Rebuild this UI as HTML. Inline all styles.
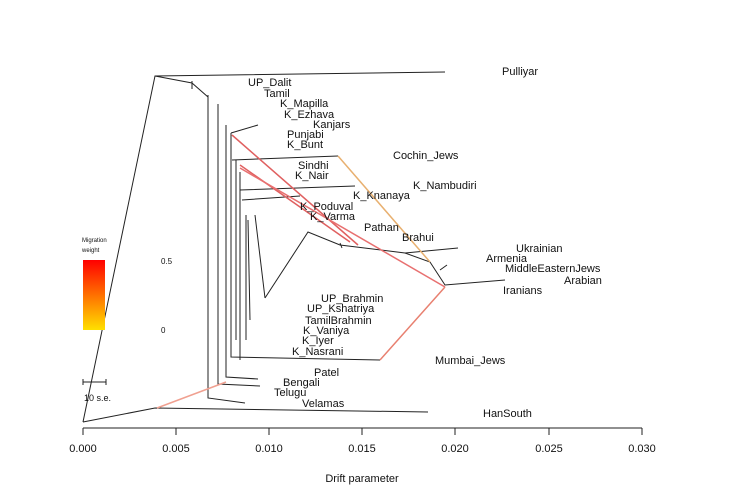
<!DOCTYPE html>
<html><head><style>
body{margin:0;background:#fff}
svg{display:block}
text{font-family:"Liberation Sans",sans-serif;font-size:11px;fill:#111}
</style></head><body>
<svg width="750" height="500" viewBox="0 0 750 500">
<defs><linearGradient id="g" x1="0" y1="0" x2="0" y2="1"><stop offset="0" stop-color="#f00"/><stop offset="1" stop-color="#ffe000"/></linearGradient></defs>
<g stroke="#222" stroke-width="1" fill="none">
<path d="M83,422 L155,76 L445,72"/>
<path d="M83,422 L155,408 L428,412"/>
<path d="M155,76 L192,83 L208,97"/>
<path d="M192,81 V89 M208,95 V104"/>
<path d="M208,97 V398 L245,403"/>
<path d="M218,104 V384 L260,386"/>
<path d="M226,125 V377 L258,379"/>
<path d="M231,133 V357 L380,360"/>
<path d="M231,133 L258,125"/>
<path d="M232,160 L338,156"/>
<path d="M236,160 V340 M240,172 V360"/>
<path d="M240,190 L355,186 M242,200 L300,196"/>
<path d="M246,215 V340 M248,220 L250,320 M255,215 L265,298"/>
<path d="M265,298 L308,232 L340,245 L405,253 L430,262 L445,285 L505,280"/>
<path d="M405,253 L458,248 M440,270 L447,265 M340,243 L342,248"/>
</g>
<g fill="none" stroke-width="1.5">
<path d="M338,156 L430,262" stroke="#e8b070"/>
<path d="M232,135 L358,245" stroke="#e06060"/>
<path d="M240,165 L350,242" stroke="#e06060"/>
<path d="M240,168 L445,287" stroke="#e87070"/>
<path d="M445,287 L380,360" stroke="#e88070"/>
<path d="M157,408 L226,382" stroke="#f0a090"/>
</g>
<text x="502" y="75">Pulliyar</text>
<text x="248" y="86">UP_Dalit</text>
<text x="264" y="97">Tamil</text>
<text x="280" y="107">K_Mapilla</text>
<text x="284" y="118">K_Ezhava</text>
<text x="313" y="128">Kanjars</text>
<text x="287" y="138">Punjabi</text>
<text x="287" y="148">K_Bunt</text>
<text x="393" y="159">Cochin_Jews</text>
<text x="298" y="169">Sindhi</text>
<text x="295" y="179">K_Nair</text>
<text x="413" y="189">K_Nambudiri</text>
<text x="353" y="199">K_Knanaya</text>
<text x="300" y="210">K_Poduval</text>
<text x="310" y="220">K_Varma</text>
<text x="364" y="231">Pathan</text>
<text x="402" y="241">Brahui</text>
<text x="516" y="252">Ukrainian</text>
<text x="486" y="262">Armenia</text>
<text x="505" y="272">MiddleEasternJews</text>
<text x="564" y="284">Arabian</text>
<text x="503" y="294">Iranians</text>
<text x="321" y="302">UP_Brahmin</text>
<text x="307" y="312">UP_Kshatriya</text>
<text x="305" y="324">TamilBrahmin</text>
<text x="303" y="334">K_Vaniya</text>
<text x="302" y="344">K_Iyer</text>
<text x="292" y="355">K_Nasrani</text>
<text x="435" y="364">Mumbai_Jews</text>
<text x="314" y="376">Patel</text>
<text x="283" y="386">Bengali</text>
<text x="274" y="396">Telugu</text>
<text x="302" y="407">Velamas</text>
<text x="483" y="417">HanSouth</text>
<text x="82" y="242" style="font-size:6px">Migration</text>
<text x="82" y="252" style="font-size:6px">weight</text>
<rect x="83" y="260" width="22" height="70" fill="url(#g)"/>
<text x="161" y="264" style="font-size:8px">0.5</text>
<text x="161" y="333" style="font-size:8px">0</text>
<path d="M83,382 H106 M83,379 V385 M106,379 V385" stroke="#222" fill="none"/>
<text x="84" y="401" style="font-size:9px">10 s.e.</text>
<g stroke="#222" fill="none"><path d="M83,428 H642 M83,428 V435 M176,428 V435 M269,428 V435 M362,428 V435 M455,428 V435 M549,428 V435 M642,428 V435"/></g>
<g text-anchor="middle">
<text x="83" y="452">0.000</text><text x="176" y="452">0.005</text><text x="269" y="452">0.010</text><text x="362" y="452">0.015</text><text x="455" y="452">0.020</text><text x="549" y="452">0.025</text><text x="642" y="452">0.030</text>
<text x="362" y="482">Drift parameter</text>
</g>
</svg>
</body></html>
